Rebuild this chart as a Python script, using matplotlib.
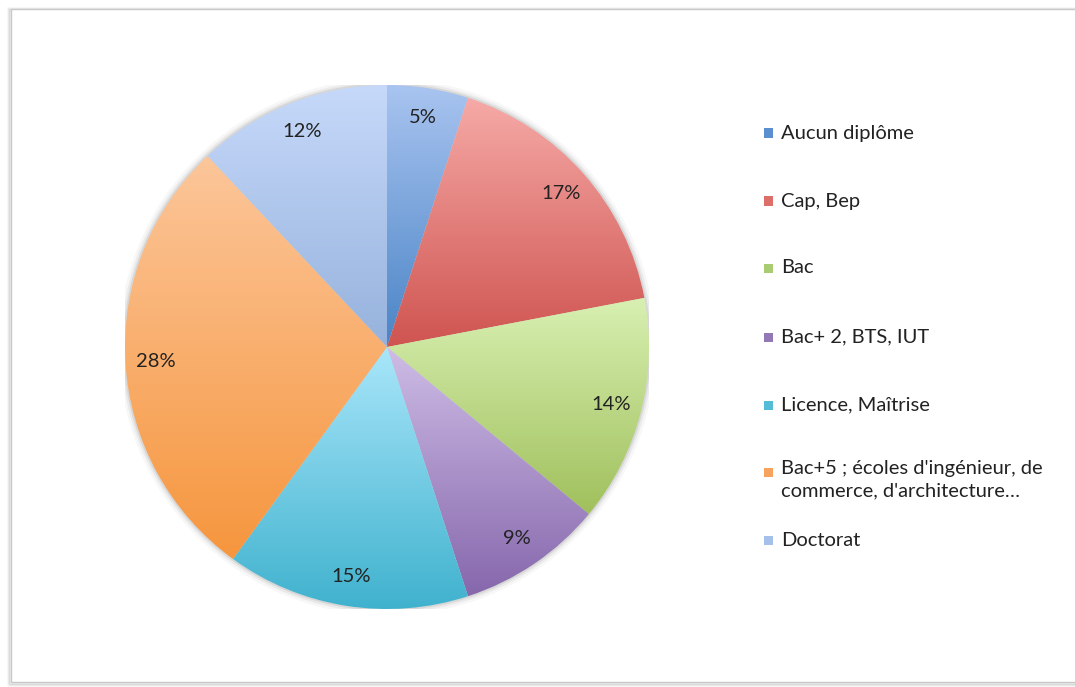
import numpy as np
import matplotlib
matplotlib.use("Agg")
import matplotlib.pyplot as plt
from matplotlib.patches import Rectangle, Circle
from matplotlib.colors import LinearSegmentedColormap

plt.rcParams['font.family'] = ['Lato', 'DejaVu Sans']

#------------------------------------------------data--------------------------------------------------------#
labels = ["Aucun diplôme", "Cap, Bep", "Bac", "Bac+ 2, BTS, IUT", "Licence, Maîtrise",
          "Bac+5 ; écoles d'ingénieur, de\ncommerce, d'architecture…", "Doctorat"]
values = [5, 17, 14, 9, 15, 28, 12]
# gradient colours per slice: (top, bottom)
top_colors = ["#A9C4F0", "#F6AAA7", "#D8F0B2", "#CEBDE6", "#A9E6FA", "#FCC69A", "#C6D9FA"]
bottom_colors = ["#4A84C6", "#CF5450", "#A0C05C", "#8667AC", "#40B2CE", "#F6963E", "#96B2DC"]
legend_colors = ["#5B8FD0", "#DD6F6B", "#A9CC72", "#9279B6", "#54BCD6", "#F7A35E", "#A6C1E9"]
legend_y = [133, 201, 268, 337, 405, 472, 540]  # pixel rows of legend entries

#------------------------------------------------plot--------------------------------------------------------#
W, H = 1075, 687
fig = plt.figure(figsize=(W / 100, H / 100), dpi=100)
fig.patch.set_facecolor('white')

# outer chart frame with shadow
for i, a in enumerate([0.10, 0.07, 0.04]):
    fig.patches.append(Rectangle(((11 - 1 - i) / W, (H - 683 - 1 - i) / H), 1.2, (683 - 9 + 2 * i) / H,
                                 transform=fig.transFigure, facecolor='none',
                                 edgecolor='black', alpha=a, lw=1.2, zorder=-3))
fig.patches.append(Rectangle((11 / W, (H - 682) / H), 1.2, (682 - 9) / H,
                             transform=fig.transFigure, facecolor='white',
                             edgecolor='#C8C8C8', lw=1.0, zorder=-2))

cx, cy, r = 387, 347, 262
ax = fig.add_axes([(cx - r) / W, (H - cy - r) / H, 2 * r / W, 2 * r / H])
ax.set_facecolor('none')
ax.set_zorder(2)

# soft shadow under the pie
for k, a in zip([1.025, 1.015, 1.007], [0.03, 0.05, 0.08]):
    ax.add_patch(Circle((0, 0), k, facecolor='black', alpha=a, lw=0, zorder=0))

wedges, texts, autotexts = ax.pie(values, startangle=90, counterclock=False,
                                  autopct='%1.0f%%', pctdistance=0.885,
                                  wedgeprops=dict(linewidth=0, edgecolor='none'),
                                  textprops=dict(fontsize=14.5, color='#222222'))

grad = np.linspace(0, 1, 256).reshape(-1, 1)
for w, ct, cb in zip(wedges, top_colors, bottom_colors):
    w.set_facecolor('none')
    ext = w.get_path().get_extents()
    cmap = LinearSegmentedColormap.from_list('g', [ct, cb])
    # origin upper: first row (top colour) at the top of the slice
    im = ax.imshow(grad, cmap=cmap, extent=[ext.x0, ext.x1, ext.y0, ext.y1],
                   origin='upper', aspect='auto', interpolation='bilinear', zorder=1)
    im.set_clip_path(w)

for t in autotexts:
    t.set_zorder(5)

ax.set_xlim(-1, 1)
ax.set_ylim(-1, 1)
ax.set_aspect('auto')
ax.axis('off')

# legend
for lab, col, y in zip(labels, legend_colors, legend_y):
    fig.patches.append(Rectangle((764 / W, (H - y - 4.5) / H), 9 / W, 9 / H,
                                 transform=fig.transFigure, facecolor=col, edgecolor='none',
                                 zorder=3))
    fig.text(781 / W, (H - y) / H, lab, fontsize=14.5, color='#222222',
             ha='left', va='center' if '\n' not in lab else 'top',
             linespacing=1.35, zorder=3)

# shift the two-line entry so its first line sits on the marker
fig.texts[5].set_y((H - 472 + 12) / H)

plt.savefig('out.png', dpi=100, facecolor='white')
